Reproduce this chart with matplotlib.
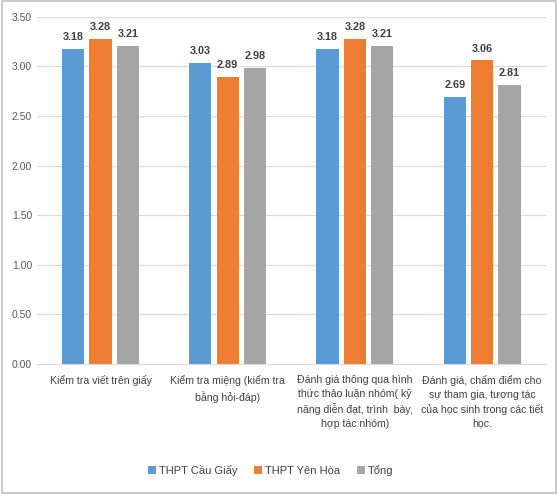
import numpy as np
import matplotlib.pyplot as plt
from matplotlib.patches import Rectangle

categories = [
    'Kiểm tra viết trên giấy',
    'Kiểm tra miệng (kiểm tra\nbằng hỏi-đáp)',
    'Đánh giá thông qua hình\nthức thảo luận nhóm( kỹ\nnăng diễn đạt, trình  bày,\nhợp tác nhóm)',
    'Đánh giá, chấm điểm cho\nsự tham gia, tương tác\ncủa học sinh trong các tiết\nhọc.',
]
series_names = ['THPT Cầu Giấy', 'THPT Yên Hòa', 'Tổng']
cau_giay = [3.18, 3.03, 3.18, 2.69]
yen_hoa = [3.28, 2.89, 3.28, 3.06]
tong = [3.21, 2.98, 3.21, 2.81]
yticks = [0.0, 0.5, 1.0, 1.5, 2.0, 2.5, 3.0, 3.5]

colors = ['#5B9BD5', '#ED7D31', '#A5A5A5']

plt.rcParams['font.family'] = ['Liberation Sans', 'DejaVu Sans']

fig = plt.figure(figsize=(5.58, 4.94), dpi=100)
ax = fig.add_axes([0.066, 0.263, 0.912, 0.703])

x = np.arange(len(categories))
width = 0.175
step = 0.215
for i, (vals, name, c) in enumerate(zip([cau_giay, yen_hoa, tong], series_names, colors)):
    bars = ax.bar(x + (i - 1) * step, vals, width, color=c, label=name, zorder=3)
    for b, v in zip(bars, vals):
        ax.text(b.get_x() + b.get_width() / 2, v + 0.07, f'{v:.2f}',
                ha='center', va='bottom', fontsize=7.8, fontweight='bold', color='#404040')

ax.set_xlim(-0.5, len(categories) - 0.5)
ax.set_ylim(0, 3.5)
ax.set_yticks(yticks)
ax.set_yticklabels([f'{t:.2f}' for t in yticks], fontsize=7.5, color='#595959')
ax.set_xticks(x)
ax.set_xticklabels(categories, fontsize=7.6, color='#404040', linespacing=1.45, va='top')
ax.tick_params(axis='both', length=0)
ax.tick_params(axis='x', pad=8)
ax.grid(axis='y', color='#D9D9D9', linewidth=0.8, zorder=0)
for s in ['top', 'right', 'left']:
    ax.spines[s].set_visible(False)
ax.spines['bottom'].set_color('#D9D9D9')

fig.legend(loc='center', bbox_to_anchor=(0.485, 0.048), ncol=3, frameon=False,
           fontsize=8, handlelength=0.7, handleheight=0.7, columnspacing=1.5,
           handletextpad=0.3, labelcolor='#404040')

fig.patches.append(Rectangle((0.003, 0.003), 0.994, 0.994, transform=fig.transFigure,
                             fill=False, edgecolor='#BFBFBF', linewidth=1.2))

fig.savefig('out.png', dpi=100)
